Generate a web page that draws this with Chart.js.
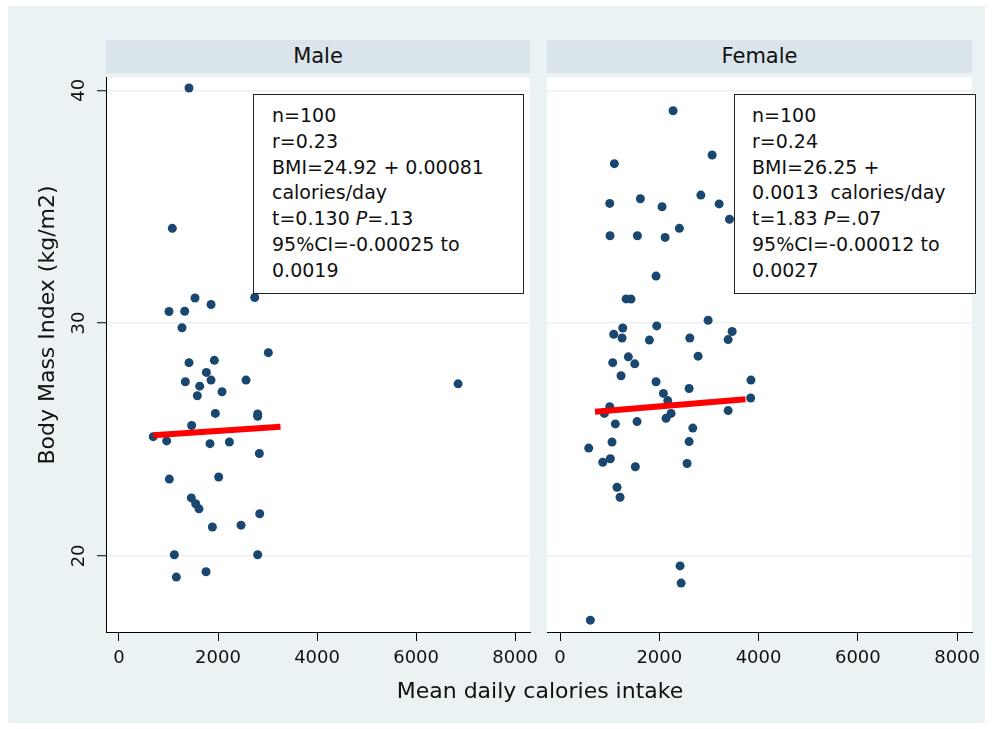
<!DOCTYPE html>
<html>
<head>
<meta charset="utf-8">
<script src="https://cdn.jsdelivr.net/npm/chart.js@4.4.0/dist/chart.umd.min.js"></script>
<style>
body{margin:0;width:994px;height:729px;background:#fff;position:relative;overflow:hidden;font-family:"DejaVu Sans",sans-serif;color:#111;}
#bg{position:absolute;left:8px;top:6px;width:977px;height:717px;background:#eaf2f3;}
.head{position:absolute;top:40px;height:33px;line-height:33px;background:#d9e5ea;text-align:center;font-size:21px;}
canvas{position:absolute;top:73px;}
.box{position:absolute;top:94px;height:200px;border:1.5px solid #222;background:#fff;box-sizing:border-box;font-size:19px;padding-top:8px;}
.box div{line-height:25.8px;white-space:pre;}
#ytitle{position:absolute;left:-103px;top:312px;width:300px;text-align:center;font-size:22px;line-height:26px;transform:rotate(-90deg);}
#xtitle{position:absolute;left:340px;top:678px;width:400px;text-align:center;font-size:22px;line-height:26px;}
</style>
</head>
<body>
<div id="bg"></div>
<div class="head" style="left:106px;width:424px;">Male</div>
<div class="head" style="left:547px;width:425px;">Female</div>
<canvas id="male" width="545" height="610" style="left:0px;"></canvas>
<canvas id="female" width="454" height="610" style="left:540px;"></canvas>
<div class="box" style="left:253px;width:271px;padding-left:18px;">
<div>n=100</div><div>r=0.23</div><div>BMI=24.92 + 0.00081</div><div>calories/day</div><div>t=0.130 <i>P</i>=.13</div><div>95%CI=-0.00025 to</div><div>0.0019</div>
</div>
<div class="box" style="left:734px;width:242px;padding-left:17px;">
<div>n=100</div><div>r=0.24</div><div>BMI=26.25 +</div><div>0.0013  calories/day</div><div>t=1.83 <i>P</i>=.07</div><div>95%CI=-0.00012 to</div><div>0.0027</div>
</div>
<div id="ytitle">Body Mass Index (kg/m2)</div>
<div id="xtitle">Mean daily calories intake</div>
<script>
var xTicks = [0, 2000, 4000, 6000, 8000];
var yTicks = [20, 30, 40];
var xRange = [-262, 8300];
var yRange = [16.73, 40.55];

// male scatter
var maleCalories = [1414, 1077, 1535, 1859, 1010, 1327, 1273, 2741, 3016, 1414, 1926, 1764, 1859, 1340, 1630, 2566, 2081, 1582,
    1946, 2801, 2801, 1468, 692, 963, 1838, 2229, 2835, 1017, 2013, 1461, 1549, 1616, 1886, 2465, 2842, 1118, 2801, 1158, 1758, 6848];
var maleBmi = [40.1, 34.07, 31.08, 30.8, 30.5, 30.51, 29.8, 31.1, 28.73, 28.3, 28.4, 27.88, 27.55, 27.48, 27.29, 27.55, 27.05, 26.88,
    26.12, 26.1, 26.0, 25.6, 25.12, 24.94, 24.82, 24.89, 24.4, 23.3, 23.39, 22.49, 22.24, 22.02, 21.24, 21.32, 21.81, 20.05, 20.05, 19.09, 19.32, 27.39];

// female scatter
var femaleCalories = [2278, 1095, 3065, 1002, 1619, 2056, 2837, 3206, 3414, 1008, 1559, 2117, 2405, 1935, 1331, 1431, 2984, 1949,
    1264, 1083, 1250, 1801, 2615, 3468, 3387, 2782, 1062, 1377, 1506, 1230, 1935, 2601, 2083, 2171, 1002, 893, 2238, 2137,
    3387, 1115, 1552, 2675, 2601, 578, 1048, 861, 1014, 1518, 2560, 1149, 1210, 2419, 2440, 611, 3847, 3841];
var femaleBmi = [39.12, 36.85, 37.22, 35.14, 35.34, 35.0, 35.5, 35.12, 34.46, 33.75, 33.75, 33.68, 34.07, 32.02, 31.04, 31.03, 30.12, 29.88,
    29.79, 29.52, 29.36, 29.27, 29.36, 29.64, 29.29, 28.58, 28.3, 28.55, 28.25, 27.74, 27.48, 27.19, 26.98, 26.67, 26.41, 26.12, 26.12, 25.91,
    26.24, 25.67, 25.77, 25.49, 24.91, 24.63, 24.89, 24.02, 24.17, 23.83, 23.97, 22.95, 22.52, 19.57, 18.83, 17.24, 27.55, 26.78];

// fitted lines
var maleFitCalories = [692, 3262];
var maleFitBmi = [25.18, 25.55];
var femaleFitCalories = [706, 3736];
var femaleFitBmi = [26.19, 26.73];

function toPoints(xs, ys){
    return xs.map(function(x, i){ return {x: x, y: ys[i]}; });
}

var plotBackground = {
    id: 'plotBackground',
    beforeDraw: function(chart){
        var a = chart.chartArea;
        chart.ctx.save();
        chart.ctx.fillStyle = '#ffffff';
        chart.ctx.fillRect(a.left, a.top, a.right - a.left, a.bottom - a.top);
        chart.ctx.restore();
    }
};

// stata style vertical tick labels on the y axis
var yLabels = {
    id: 'yLabels',
    afterDraw: function(chart){
        var ctx = chart.ctx, sc = chart.scales.y;
        ctx.save();
        ctx.font = '18px "DejaVu Sans"';
        ctx.fillStyle = '#111';
        ctx.textAlign = 'center';
        ctx.textBaseline = 'middle';
        yTicks.forEach(function(v){
            ctx.save();
            ctx.translate(sc.right - 27, sc.getPixelForValue(v));
            ctx.rotate(-Math.PI / 2);
            ctx.fillText(String(v), 0, 0);
            ctx.restore();
        });
        ctx.restore();
    }
};

function makeChart(id, xs, ys, fx, fy, showY, padLeft, padRight){
    var plugins = [plotBackground];
    if (showY) plugins.push(yLabels);
    return new Chart(document.getElementById(id).getContext('2d'), {
        type: 'scatter',
        data: {
            datasets: [
                { type: 'line', data: toPoints(fx, fy), borderColor: '#ff0000', borderWidth: 6,
                  pointRadius: 0, fill: false, tension: 0, borderCapStyle: 'butt' },
                { data: toPoints(xs, ys), backgroundColor: '#1a476f', borderColor: '#1a476f',
                  borderWidth: 0, pointRadius: 4.5 }
            ]
        },
        options: {
            responsive: false,
            animation: false,
            devicePixelRatio: 1,
            layout: { padding: { left: padLeft, right: padRight, top: 0, bottom: 0 } },
            plugins: { legend: { display: false }, tooltip: { enabled: false } },
            scales: {
                x: {
                    type: 'linear', min: xRange[0], max: xRange[1],
                    afterBuildTicks: function(s){ s.ticks = xTicks.map(function(v){ return {value: v}; }); },
                    afterFit: function(s){ s.height = 51; s.paddingLeft = 0; s.paddingRight = 0; },
                    grid: { drawOnChartArea: false, drawTicks: true, tickLength: 9, tickColor: '#000', tickWidth: 1 },
                    border: { display: true, color: '#000', width: 1 },
                    ticks: { font: { family: 'DejaVu Sans', size: 18 }, color: '#111', padding: 7,
                             maxRotation: 0, minRotation: 0, autoSkip: false,
                             callback: function(v){ return String(v); } }
                },
                y: {
                    type: 'linear', min: yRange[0], max: yRange[1],
                    afterBuildTicks: function(s){ s.ticks = yTicks.map(function(v){ return {value: v}; }); },
                    afterFit: function(s){ s.width = showY ? 106 : 0; s.paddingTop = 0; s.paddingBottom = 0; },
                    grid: { color: '#eaf2f3', lineWidth: 1.5, drawTicks: showY, tickLength: 9, tickColor: '#000', tickWidth: 1 },
                    border: { display: showY, color: '#000', width: 1 },
                    ticks: { display: false }
                }
            }
        },
        plugins: plugins
    });
}

makeChart('male', maleCalories, maleBmi, maleFitCalories, maleFitBmi, true, 0, 15);
makeChart('female', femaleCalories, femaleBmi, femaleFitCalories, femaleFitBmi, false, 7, 22);
</script>
</body>
</html>
